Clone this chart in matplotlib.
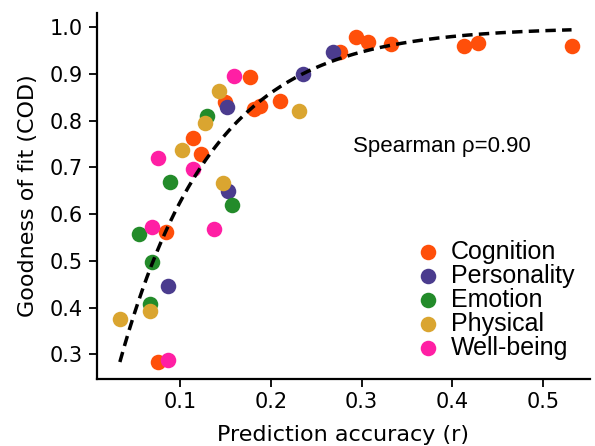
import numpy as np
import matplotlib
matplotlib.use("Agg")
import matplotlib.pyplot as plt

# ---- data ----
cognition_x = [0.177, 0.150, 0.182, 0.188, 0.210, 0.115, 0.123, 0.085, 0.076,
               0.276, 0.294, 0.307, 0.332, 0.413, 0.428, 0.532]
cognition_y = [0.894, 0.839, 0.824, 0.831, 0.842, 0.762, 0.728, 0.562, 0.283,
               0.946, 0.980, 0.969, 0.964, 0.960, 0.966, 0.960]
personality_x = [0.152, 0.235, 0.268, 0.153, 0.087]
personality_y = [0.829, 0.900, 0.948, 0.650, 0.446]
emotion_x = [0.130, 0.089, 0.157, 0.055, 0.069, 0.067]
emotion_y = [0.810, 0.668, 0.620, 0.557, 0.497, 0.407]
physical_x = [0.143, 0.128, 0.102, 0.231, 0.148, 0.067, 0.034]
physical_y = [0.864, 0.796, 0.737, 0.821, 0.666, 0.393, 0.376]
wellbeing_x = [0.160, 0.076, 0.114, 0.069, 0.138, 0.087]
wellbeing_y = [0.896, 0.720, 0.696, 0.572, 0.569, 0.287]

group_names = ["Cognition", "Personality", "Emotion", "Physical", "Well-being"]
group_colors = ["#FF4F0A", "#4B3C8E", "#238B2A", "#DAA530", "#FF1FA4"]

# fitted saturating curve y = 1 - exp(-rate * x)
fit_rate = 9.8
fit_x_range = (0.034, 0.531)
spearman_label = "Spearman \u03c1=0.90"

# ---- figure ----
fig = plt.figure(figsize=(5.95, 4.46), dpi=100)
ax = fig.add_axes([0.1625, 0.1502, 0.9916 - 0.1625, 0.971 - 0.1502])

xs = [cognition_x, personality_x, emotion_x, physical_x, wellbeing_x]
ys = [cognition_y, personality_y, emotion_y, physical_y, wellbeing_y]
for name, c, x, y in zip(group_names, group_colors, xs, ys):
    ax.scatter(x, y, s=125, color=c, label=name, linewidths=0, zorder=2)

cx = np.linspace(fit_x_range[0], fit_x_range[1], 200)
ax.plot(cx, 1 - np.exp(-fit_rate * cx), ls=(0, (3.0, 1.8)), color="black", lw=2.5, zorder=3)

ax.set_xlim(0.0085, 0.5513)
ax.set_ylim(0.247, 1.0306)
ax.set_xticks([0.1, 0.2, 0.3, 0.4, 0.5])
ax.set_yticks([0.3, 0.4, 0.5, 0.6, 0.7, 0.8, 0.9, 1.0])
ax.tick_params(labelsize=15, width=1.3, length=6)
ax.tick_params(axis="x", pad=3)
ax.tick_params(axis="y", pad=4)
for s in ["top", "right"]:
    ax.spines[s].set_visible(False)
for s in ["left", "bottom"]:
    ax.spines[s].set_linewidth(1.6)

ax.set_xlabel("Prediction accuracy (r)", fontsize=16, labelpad=10)
ax.set_ylabel("Goodness of fit (COD)", fontsize=16, labelpad=8)

ax.text(0.291, 0.744, spearman_label, fontsize=16, family="Liberation Sans",
        ha="left", va="center")

leg = fig.legend(loc="upper left", bbox_to_anchor=(0.688, 0.462), frameon=False,
                 prop={"family": "Liberation Sans", "size": 18}, handletextpad=0.15,
                 labelspacing=0.0, borderaxespad=0.0, borderpad=0.0, handlelength=1.5)

fig.savefig("out.png", dpi=100)
